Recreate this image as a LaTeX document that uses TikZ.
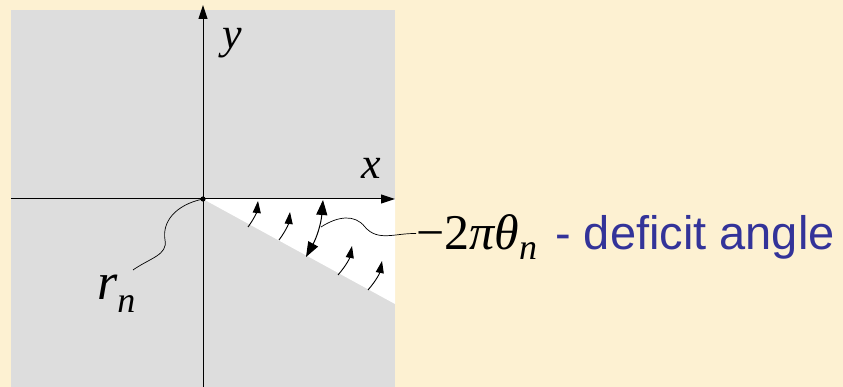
\documentclass[tikz,border=0pt]{standalone}
\usepackage{fontspec}
\setmainfont{Liberation Serif}
\newfontfamily\labelfont{Liberation Sans}
\definecolor{bgpaper}{RGB}{253,241,210}
\definecolor{conegray}{RGB}{221,221,221}
\definecolor{txtblue}{RGB}{51,51,153}
\usetikzlibrary{arrows.meta,positioning,calc}
\newcommand{\lowidx}[2]{\raisebox{-#1pt}{\fontsize{36}{36}\selectfont\itshape #2}}

\begin{document}
\begin{tikzpicture}[x=1pt,y=-1pt,
  axis/.style={line width=1pt,-{Triangle[length=14pt,width=9pt]}},
  flow/.style={line width=0.9pt,-{Triangle[length=12pt,width=8pt]}},
  twoway/.style={line width=1pt,{Triangle[length=15pt,width=11pt]}-{Triangle[length=15pt,width=11pt]}},
  leader/.style={line width=0.7pt},
  var/.style={font=\fontsize{44}{44}\selectfont\itshape,inner sep=0pt}]
  % background and plane
  \fill[bgpaper] (0,0) rectangle (843,387);
  \useasboundingbox (0,0) rectangle (843,387);
  \fill[conegray] (11,10) rectangle (395,387);
  \coordinate (O) at (203,199);
  \coordinate (xend) at (395,199);
  \coordinate (cut) at (395,304);
  \fill[white] (O) -- (xend) -- (cut) -- cycle;
  % axes
  \coordinate (xstart) at (11,199);
  \coordinate (ystart) at (203,387);
  \coordinate (ytip) at (203,5);
  \draw[axis] (xstart) -- (xend);
  \draw[axis] (ystart) -- (ytip);
  \fill (O) circle (2.6pt);
  \node[var] (ylab) at (232,43) {y};
  \node[var] (xlab) at (371,168) {x};
  \node[var,anchor=base west,font=\fontsize{52}{52}\selectfont\itshape] (rlab) at (97,300) {r\lowidx{13}{n}};
  % leader to the vertex
  \coordinate (rfoot) at (133,270);
  \draw[leader] (rfoot) .. controls (150,258) and (168,255) .. (165,240)
    .. controls (162,222) and (175,205) .. (O);
  % identified edges
  \coordinate (a1) at (248,227); \coordinate (b1) at (258,201);
  \coordinate (a2) at (279,240); \coordinate (b2) at (290,212);
  \coordinate (a4) at (338,275); \coordinate (b4) at (352,246);
  \coordinate (a5) at (368,290); \coordinate (b5) at (382,261);
  \foreach \i in {1,2,4,5}
    \draw[flow] (a\i) to[bend right=15] (b\i);
  \coordinate (top3) at (323,200);
  \coordinate (low3) at (306,257);
  \draw[twoway] (top3) to[bend left=12] (low3);
  % deficit label
  \coordinate (wig) at (321,227);
  \node[anchor=base west,inner sep=0pt,font=\fontsize{50}{50}\selectfont] (deficit) at (416,250)
    {−2{\itshape πθ}\lowidx{10}{n}};
  \node[anchor=base west,inner sep=0pt,font=\labelfont\fontsize{47}{47}\selectfont,txtblue]
    (deftext) at (555,250) {- deficit angle};
  \draw[leader] (wig) .. controls (338,216) and (355,214) .. (365,227)
    .. controls (378,242) and (395,233) .. ([yshift=4pt]deficit.west);
\end{tikzpicture}
\end{document}
